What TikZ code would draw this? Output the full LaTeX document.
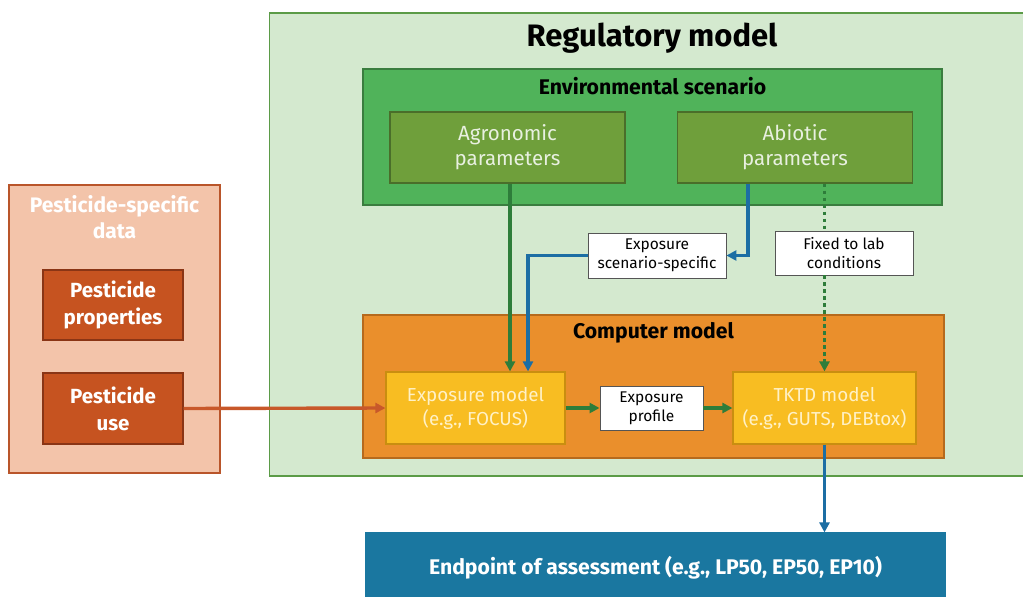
\documentclass[tikz,border=0pt]{standalone}
\usepackage{fontspec}
\setmainfont{Fira Sans}
\usetikzlibrary{arrows.meta}

% palette
\definecolor{regfill}{HTML}{D4E9CF}
\definecolor{regline}{HTML}{5B9B47}
\definecolor{envfill}{HTML}{50B35A}
\definecolor{envline}{HTML}{3A7D3F}
\definecolor{parfill}{HTML}{6F9F3B}
\definecolor{parline}{HTML}{4A6E2A}
\definecolor{partext}{HTML}{E8F0E0}
\definecolor{compfill}{HTML}{EA8F2C}
\definecolor{compline}{HTML}{B66A1D}
\definecolor{modfill}{HTML}{F8BD22}
\definecolor{modline}{HTML}{C98E10}
\definecolor{modtext}{HTML}{FFF1C6}
\definecolor{pestfill}{HTML}{F3C4AA}
\definecolor{pestline}{HTML}{B9552A}
\definecolor{pinfill}{HTML}{C65320}
\definecolor{pinline}{HTML}{8A3515}
\definecolor{endfill}{HTML}{1A77A0}
\definecolor{arrgreen}{HTML}{2E7D3A}
\definecolor{arrblue}{HTML}{1C6EA4}
\definecolor{arrorange}{HTML}{C8582A}
\definecolor{tagline}{HTML}{555555}

\tikzset{
  box/.style={draw, line width=1.2pt, rectangle, align=center, inner sep=0pt},
  outerbox/.style={box, fill=regfill, draw=regline},
  envbox/.style={box, fill=envfill, draw=envline},
  parbox/.style={box, fill=parfill, draw=parline, text=partext,
    font=\fontsize{20.5}{25}\selectfont, minimum width=235pt, minimum height=71pt},
  compbox/.style={box, fill=compfill, draw=compline},
  modbox/.style={box, fill=modfill, draw=modline, text=modtext,
    font=\fontsize{18.8}{24}\selectfont, minimum height=72pt},
  pestbox/.style={box, fill=pestfill, draw=pestline},
  pinbox/.style={box, fill=pinfill, draw=pinline, text=white,
    font=\bfseries\fontsize{20.5}{27}\selectfont, minimum width=140pt, minimum height=70pt},
  tagbox/.style={box, fill=white, draw=tagline, line width=0.9pt,
    font=\fontsize{15.5}{19}\selectfont, minimum width=138pt, minimum height=44pt},
  title/.style={font=\bfseries\fontsize{21.2}{25}\selectfont},
  tip/.style={-{Triangle[length=10pt,width=10pt]}},
  flow/.style={tip, line width=3.4pt},
}

\begin{document}
\begin{tikzpicture}[x=1pt,y=-1pt]
  \clip (0,0) rectangle (1023,597);
  \fill[white] (0,0) rectangle (1023,597);

  % regulatory model frame
  \node[outerbox, minimum width=765pt, minimum height=463pt] (reg) at (652,244.5) {};
  \node[font=\bfseries\fontsize{31}{35}\selectfont] (regt) at (652,38) {Regulatory model};

  % environmental scenario
  \node[envbox, minimum width=579pt, minimum height=136pt] (env) at (652.5,137) {};
  \node[title] (envt) at (652.5,86) {Environmental scenario};
  \node[parbox] (agro) at (507.5,147.5) {Agronomic\\parameters};
  \node[parbox] (abio) at (795,147.5) {Abiotic\\parameters};

  % computer model
  \node[compbox, minimum width=581pt, minimum height=143pt] (comp) at (653.5,386.5) {};
  \node[title] (compt) at (653.5,333) {Computer model};
  \node[modbox, minimum width=179pt] (expmod) at (475.5,408) {Exposure model\\(e.g., FOCUS)};
  \node[tagbox, minimum width=103pt] (prof) at (651.5,408) {Exposure\\profile};
  \node[modbox, minimum width=183pt] (tktd) at (824.5,408) {TKTD model\\(e.g., GUTS, DEBtox)};

  % connector tags
  \node[tagbox, minimum height=45pt] (expscen) at (657,255.5) {Exposure\\scenario-specific};
  \node[tagbox] (fixed) at (844,253) {Fixed to lab\\conditions};

  % pesticide-specific data
  \node[pestbox, minimum width=211pt, minimum height=288pt] (pest) at (114.5,329) {};
  \node[font=\bfseries\fontsize{21}{26}\selectfont, text=white, align=center] (pestt) at (114.5,217) {Pesticide-specific\\data};
  \node[pinbox] (prop) at (113,305) {Pesticide\\properties};
  \node[pinbox, minimum height=71pt] (use) at (113,408.5) {Pesticide\\use};

  % endpoint
  \node[box, fill=endfill, draw=endfill, minimum width=579pt, minimum height=80pt] (endp) at (655.5,573) {};
  \node[font=\bfseries\fontsize{21.2}{25}\selectfont, text=white] (endt) at (655.5,568) {Endpoint of assessment (e.g., LP50, EP50, EP10)};

  % connectors
  \draw[flow, arrorange] (use.east) -- (expmod.west);
  \draw[flow, arrgreen] ([xshift=2.5pt]agro.south) -- ([xshift=34.5pt]expmod.north);
  \draw[flow, arrblue] ([xshift=-47pt]abio.south) |- (expscen.east);
  \draw[flow, arrblue] (expscen.west) -| ([xshift=52.5pt]expmod.north);
  \draw[line width=3.4pt, arrgreen, dash pattern=on 3.4pt off 3.6pt] (tktd.north |- abio.south) -- (tktd.north |- fixed.north);
  \draw[flow, arrgreen, dash pattern=on 3.4pt off 3.6pt] (tktd.north |- fixed.south) -- (tktd.north);
  \draw[flow, arrgreen] (expmod.east) -- (prof.west);
  \draw[flow, arrgreen] (prof.east) -- (tktd.west);
  \draw[flow, arrblue] (tktd.south) -- (tktd.south |- endp.north);
\end{tikzpicture}
\end{document}
